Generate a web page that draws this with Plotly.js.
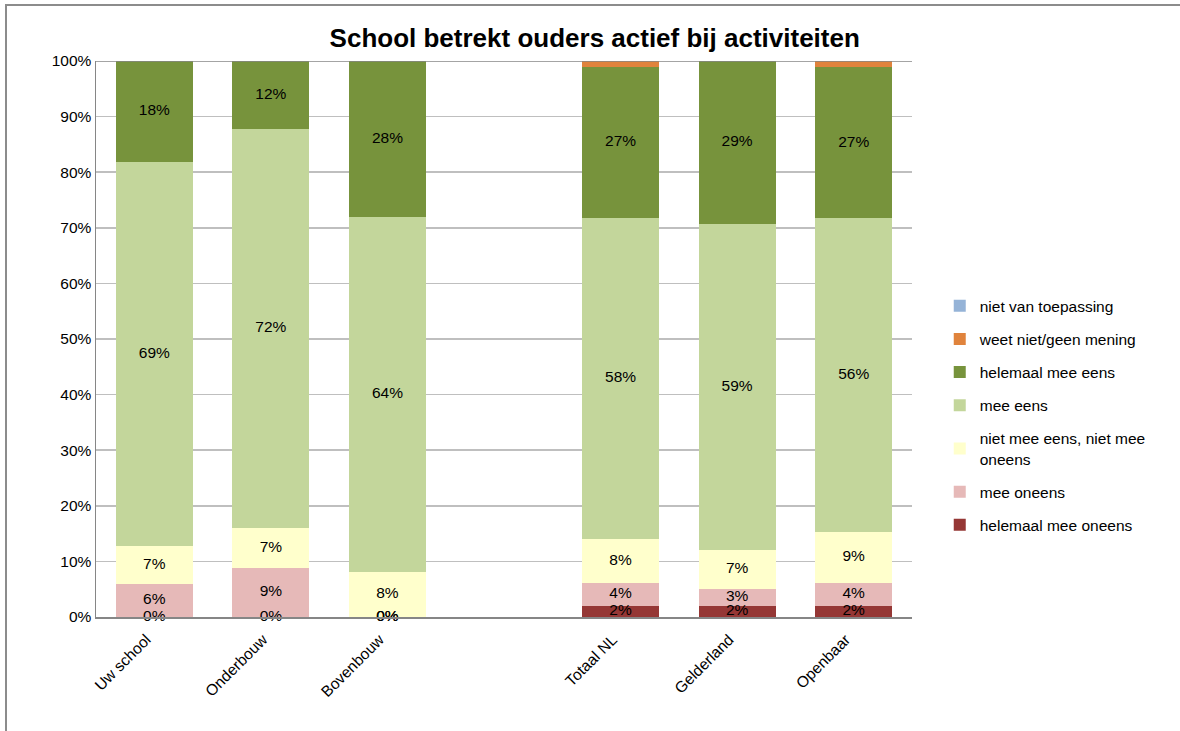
<!DOCTYPE html>
<html>
<head>
<meta charset="utf-8">
<script src="https://cdn.plot.ly/plotly-3.0.1.min.js"></script>
<style>
html,body{margin:0;padding:0;background:#fff;}
#frame{position:absolute;left:5px;top:4px;width:1300px;height:800px;border-top:2px solid #8c8c8c;border-left:2px solid #8c8c8c;}
#chart{position:absolute;left:0;top:0;width:1180px;height:731px;}
</style>
</head>
<body>
<div id="frame"></div>
<div id="chart"></div>
<script>
const categories = ["Uw school", "Onderbouw", "Bovenbouw", "Totaal NL", "Gelderland", "Openbaar"];
const xPositions = [0, 1, 2, 4, 5, 6];

const helemaalMeeOneens = [0, 0, 0, 2.0, 2.0, 2.0];
const meeOneens = [5.9, 8.8, 0, 4.1, 3.0, 4.1];
const neutraal = [6.9, 7.2, 8.1, 7.9, 7.1, 9.2];
const meeEens = [69.0, 71.8, 63.8, 57.8, 58.6, 56.4];
const helemaalMeeEens = [18.2, 12.2, 28.1, 27.1, 29.3, 27.2];
const weetNiet = [0, 0, 0, 1.1, 0, 1.1];
const nietVanToepassing = [0, 0, 0, 0, 0, 0];

const seriesNames = ["helemaal mee oneens", "mee oneens", "niet mee eens, niet mee<br>oneens", "mee eens", "helemaal mee eens", "weet niet/geen mening", "niet van toepassing"];
const seriesValues = [helemaalMeeOneens, meeOneens, neutraal, meeEens, helemaalMeeEens, weetNiet, nietVanToepassing];
const seriesColors = ["#953735", "#e6b9b8", "#ffffcc", "#c3d69b", "#77933c", "#e0833c", "#95b3d7"];
const labelledSeries = 5;

const FONT = "Liberation Sans, Arial, sans-serif";

const traces = [];
seriesNames.forEach((name, i) => {
  traces.push({
    type: "bar", name: name, x: xPositions, y: seriesValues[i],
    marker: {color: seriesColors[i], line: {width: 0}},
    legendgroup: "g" + i, legendrank: 100 - i, hoverinfo: "name+y"
  });
});

// data labels at segment midpoints
const lx = [], ly = [], lt = [];
const cum = xPositions.map(() => 0);
seriesValues.forEach((vals, i) => {
  vals.forEach((v, j) => {
    if (i < labelledSeries) {
      lx.push(xPositions[j]);
      ly.push(cum[j] + v / 2);
      lt.push(Math.round(v) + "%");
    }
    cum[j] += v;
  });
});
traces.push({
  type: "scatter", mode: "text", x: lx, y: ly, text: lt,
  textfont: {family: FONT, size: 15.5, color: "#000"},
  textposition: "middle center", showlegend: false, hoverinfo: "skip", cliponaxis: false
});

const layout = {
  width: 1180, height: 731,
  margin: {l: 96, r: 268, t: 61, b: 114},
  paper_bgcolor: "rgba(0,0,0,0)", plot_bgcolor: "#fff",
  barmode: "stack", bargap: 0.34,
  font: {family: FONT, color: "#000"},
  title: {text: "<b>School betrekt ouders actief bij activiteiten</b>", x: 0.504, xanchor: "center", y: 0.948, yanchor: "middle",
    font: {size: 26, family: FONT, color: "#000"}},
  xaxis: {
    range: [-0.5, 6.5], tickvals: xPositions, ticktext: categories, tickangle: -45,
    showgrid: false, zeroline: false, showline: true, linecolor: "#868686", linewidth: 1.5,
    ticks: "", tickfont: {size: 15.5, color: "#000"}, fixedrange: true,
    ticklabelstandoff: 6, ticklabelshift: -8
  },
  yaxis: {
    range: [0, 100], dtick: 10, ticksuffix: "%", showgrid: true, gridcolor: "#bfbfbf", gridwidth: 1.5,
    zeroline: false, showline: true, linecolor: "#868686", linewidth: 1.5, ticks: "",
    tickfont: {size: 15.5, color: "#000"}, fixedrange: true
  },
  shapes: [{type: "line", xref: "paper", yref: "y", x0: 0, x1: 1, y0: 100, y1: 100, line: {color: "#868686", width: 1.5}}],
  legend: {
    x: 1.034, xanchor: "left", y: 0.362, yanchor: "middle", traceorder: "grouped",
    tracegroupgap: 10, font: {size: 15.5, color: "#000"}, bgcolor: "rgba(0,0,0,0)", itemwidth: 30
  },
  showlegend: true
};

Plotly.newPlot("chart", traces, layout, {displayModeBar: false, staticPlot: true});
</script>
</body>
</html>
